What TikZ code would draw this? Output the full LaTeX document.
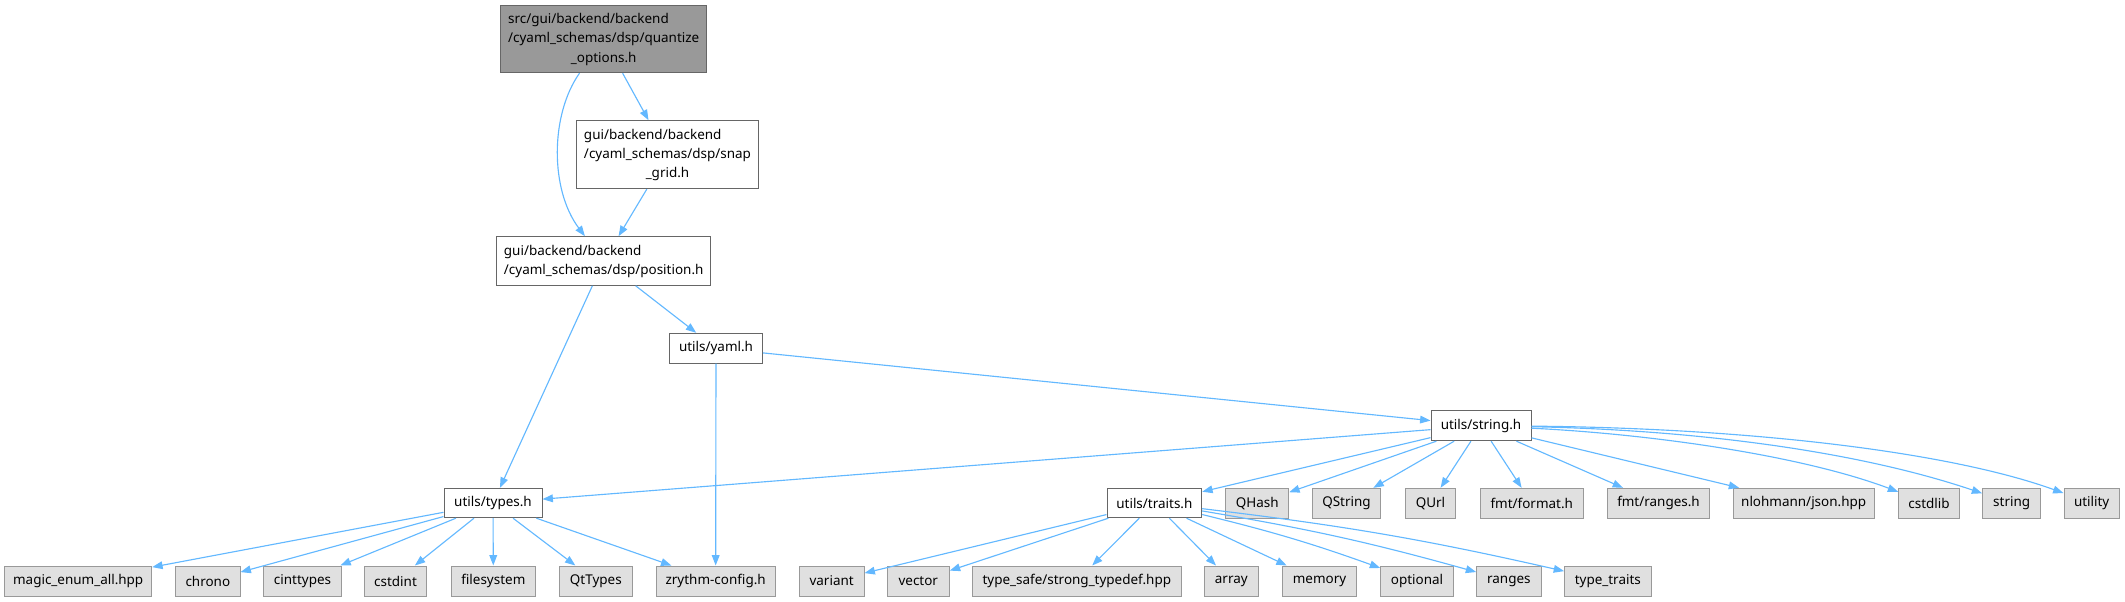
\documentclass[tikz,border=0pt]{standalone}
\usepackage{fontspec}
\setmainfont{Noto Sans}
\usetikzlibrary{arrows.meta}
\definecolor{edgec}{HTML}{63B8FF}
\definecolor{extfill}{HTML}{E0E0E0}
\definecolor{extdraw}{HTML}{999999}
\definecolor{nodedraw}{HTML}{666666}
\definecolor{rootfill}{HTML}{999999}
\newcommand\nd[7]{\node[#2, minimum width={(#5-#3)*0.75pt}, minimum height={(#6-#4)*0.75pt}] (#1) at ({(#3+#5)/2},{(#4+#6)/2}) {#7};}
\newcommand\threel[3]{\begin{tabular}{@{}l@{}}#1\\#2\\\multicolumn{1}{@{}c@{}}{#3}\end{tabular}}
\newcommand\twol[2]{\begin{tabular}{@{}l@{}}#1\\#2\end{tabular}}
\begin{document}
\begin{tikzpicture}[x=0.75pt,y=-0.75pt,
  box/.style={draw=nodedraw, fill=white, line width=0.75pt, inner sep=0pt, font=\fontsize{10.1pt}{14.5pt}\selectfont},
  ext/.style={box, draw=extdraw, fill=extfill},
  root/.style={box, fill=rootfill},
  edge/.style={draw=edgec, line width=0.85pt, -{Triangle[length=7.8pt,width=5.8pt]}}]
\useasboundingbox (0,0) rectangle (2125,601);
% main nodes
\nd{qopt}{root}{500.7}{5}{706.7}{72.7}{\threel{src/gui/backend/backend}{/cyaml\_schemas/dsp/quantize}{\_options.h}}
\nd{snap}{box}{576.7}{120.7}{758.3}{188.7}{\threel{gui/backend/backend}{/cyaml\_schemas/dsp/snap}{\_grid.h}}
\nd{pos}{box}{496.7}{236.7}{710.7}{285.3}{\twol{gui/backend/backend}{/cyaml\_schemas/dsp/position.h}}
\nd{yaml}{box}{669.7}{333.3}{762.3}{363}{utils/yaml.h}
\nd{strh}{box}{1431}{410.7}{1531}{440.7}{utils/string.h}
\nd{types}{box}{444}{488.3}{542}{517.7}{utils/types.h}
\nd{traits}{box}{1107}{488.3}{1201.7}{517.7}{utils/traits.h}
% top-row externals
\nd{qhash}{ext}{1225.7}{488.3}{1288.7}{518.3}{QHash}
\nd{qstring}{ext}{1312.3}{488.3}{1380.7}{518.3}{QString}
\nd{qurl}{ext}{1405.3}{488.3}{1455.7}{518.3}{QUrl}
\nd{fmtfmt}{ext}{1480}{488.3}{1583.5}{518.3}{fmt/format.h}
\nd{fmtrng}{ext}{1607.3}{488.3}{1709.7}{518.3}{fmt/ranges.h}
\nd{json}{ext}{1733}{488.3}{1874.3}{518.3}{nlohmann/json.hpp}
\nd{cstdlib}{ext}{1898.7}{488.3}{1959.3}{518.3}{cstdlib}
\nd{stringn}{ext}{1982.7}{488.3}{2040.7}{518.3}{string}
\nd{utility}{ext}{2064}{488.3}{2119.3}{518.3}{utility}
% bottom-row externals
\nd{magic}{ext}{4.7}{566}{151.7}{596}{magic\_enum\_all.hpp}
\nd{chrono}{ext}{175.7}{566}{240}{596}{chrono}
\nd{cint}{ext}{263.7}{566}{341.3}{596}{cinttypes}
\nd{cstdint}{ext}{364.3}{566}{426.7}{596}{cstdint}
\nd{fs}{ext}{451}{566}{535.7}{596}{filesystem}
\nd{qtt}{ext}{559.3}{566}{632.3}{596}{QtTypes}
\nd{zcfg}{ext}{656}{566}{775.3}{596}{zrythm-config.h}
\nd{variant}{ext}{799.3}{566}{864}{596}{variant}
\nd{vector}{ext}{887.3}{566}{949.3}{596}{vector}
\nd{tsafe}{ext}{972.3}{566}{1181.3}{596}{type\_safe/strong\_typedef.hpp}
\nd{array}{ext}{1204.3}{566}{1258.3}{596}{array}
\nd{memory}{ext}{1282.3}{566}{1356.7}{596}{memory}
\nd{optional}{ext}{1380.7}{566}{1453.3}{596}{optional}
\nd{ranges}{ext}{1476.7}{566}{1541}{596}{ranges}
\nd{ttraits}{ext}{1564.6}{566}{1651}{596}{type\_traits}
% edges
\draw[edge] (qopt) .. controls (550,115) and (550,190) .. (pos);
\draw[edge] (qopt) -- (snap);
\draw[edge] (snap) -- (pos);
\draw[edge] (pos) -- (types);
\draw[edge] (pos) -- (yaml);
\draw[edge] (yaml) -- (zcfg);
\draw[edge] (yaml) -- (strh);
\draw[edge] (strh) -- (types);
\draw[edge] (strh) -- (traits);
\draw[edge] (strh) -- (qhash);
\draw[edge] (strh) -- (qstring);
\draw[edge] (strh) -- (qurl);
\draw[edge] (strh) -- (fmtfmt);
\draw[edge] (strh) -- (fmtrng);
\draw[edge] (strh) -- (json);
\draw[edge] (strh) .. controls (1650,434) and (1800,455) .. (cstdlib);
\draw[edge] (strh) .. controls (1700,430) and (1860,452) .. (stringn);
\draw[edge] (strh) .. controls (1750,428) and (1950,452) .. (utility);
\draw[edge] (types) -- (magic);
\draw[edge] (types) -- (chrono);
\draw[edge] (types) -- (cint);
\draw[edge] (types) -- (cstdint);
\draw[edge] (types) -- (fs);
\draw[edge] (types) -- (qtt);
\draw[edge] (types) -- (zcfg);
\draw[edge] (traits) -- (variant);
\draw[edge] (traits) -- (vector);
\draw[edge] (traits) -- (tsafe);
\draw[edge] (traits) -- (array);
\draw[edge] (traits) -- (memory);
\draw[edge] (traits) to[bend left=3] (optional);
\draw[edge] (traits) to[bend left=3] (ranges);
\draw[edge] (traits) to[bend left=3] (ttraits);
\end{tikzpicture}
\end{document}
